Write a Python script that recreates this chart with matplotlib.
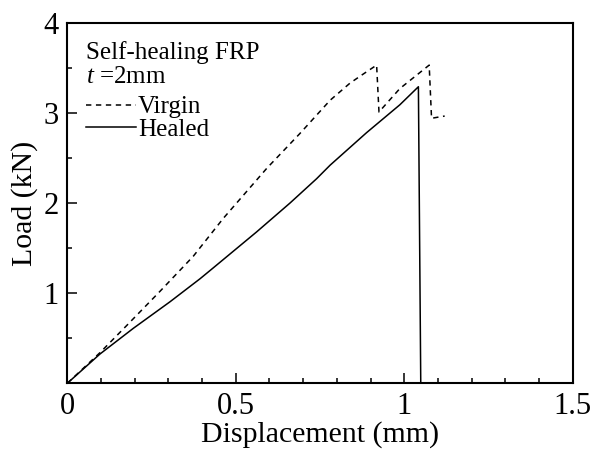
import matplotlib
matplotlib.use("Agg")
import matplotlib.pyplot as plt

plt.rcParams["font.family"] = ["Liberation Serif", "DejaVu Serif"]
plt.rcParams["mathtext.fontset"] = "custom"
plt.rcParams["mathtext.rm"] = "Liberation Serif"
plt.rcParams["mathtext.it"] = "Liberation Serif:italic"

# Virgin specimen (dashed)
virgin_x = [0, 0.097, 0.176, 0.275, 0.374, 0.463, 0.592, 0.69, 0.78, 0.839, 0.874,
            0.918, 0.925, 0.987, 1.074, 1.081, 1.12]
virgin_y = [0, 0.34, 0.64, 1.02, 1.41, 1.83, 2.385, 2.77, 3.14, 3.33, 3.42,
            3.53, 3.01, 3.27, 3.53, 2.94, 2.965]

# Healed specimen (solid)
healed_x = [0, 0.097, 0.196, 0.305, 0.394, 0.433, 0.562, 0.661, 0.74, 0.78,
            0.888, 0.987, 1.042, 1.049]
healed_y = [0, 0.325, 0.61, 0.905, 1.16, 1.28, 1.68, 2.0, 2.27, 2.42,
            2.78, 3.09, 3.29, 0]

xticks = [0, 0.5, 1, 1.5]
xtick_labels = ["0", "0.5", "1", "1.5"]
yticks = [1, 2, 3, 4]
ytick_labels = ["1", "2", "3", "4"]

fig = plt.figure(figsize=(5.93, 4.55), dpi=100)
ax = fig.add_axes([0.1135, 0.1576, 0.8523, 0.7924])

ax.plot(virgin_x, virgin_y, color="black", lw=1.1, linestyle=(0, (3.5, 3)), label="Virgin")
ax.plot(healed_x, healed_y, color="black", lw=1.1, label="Healed")

ax.set_xlim(0, 1.5)
ax.set_ylim(0, 4)
ax.set_xticks(xticks, xtick_labels)
ax.set_yticks(yticks, ytick_labels)
ax.set_xticks([i / 10 for i in range(16)], minor=True)
ax.set_yticks([i / 2 for i in range(9)], minor=True)
ax.tick_params(which="major", direction="in", length=7, width=1.1, labelsize=22, pad=6)
ax.tick_params(which="minor", direction="in", length=3.6, width=1.1)
for s in ax.spines.values():
    s.set_linewidth(1.5)

ax.set_xlabel("Displacement (mm)", fontsize=21.5, labelpad=0)
ax.set_ylabel("Load (kN)", fontsize=21.5, labelpad=4)

ax.text(0.037, 0.899, "Self-healing FRP", transform=ax.transAxes,
        fontsize=18, va="baseline", ha="left")
ax.text(0.037, 0.833, "$t$ =2mm", transform=ax.transAxes,
        fontsize=18, va="baseline", ha="left")
ax.legend(loc="upper left", bbox_to_anchor=(0.037, 0.797), frameon=False,
          fontsize=18, handlelength=2.0, handletextpad=0.08,
          labelspacing=0.0, borderaxespad=0.0, borderpad=0.0)

fig.savefig("out.png", dpi=100)
